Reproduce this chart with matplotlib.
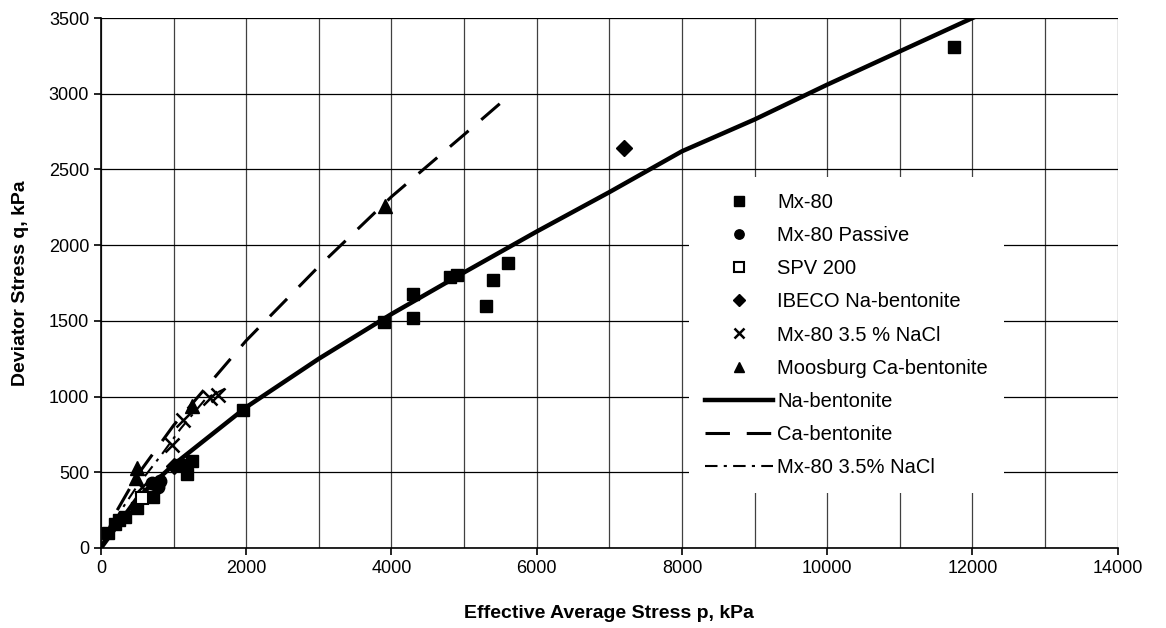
import matplotlib
matplotlib.use("Agg")
from matplotlib import pyplot as plt
from matplotlib.ticker import MultipleLocator

plt.rcParams['font.family'] = ['Liberation Sans', 'DejaVu Sans']

# measured points (p, q) in kPa
mx80_p = [100, 190, 250, 330, 500, 720, 1120, 1180, 1250, 1960, 3900, 4300, 4300, 4800, 4900, 5300, 5400, 5600, 11750]
mx80_q = [100, 160, 185, 205, 265, 340, 545, 490, 575, 910, 1490, 1680, 1520, 1790, 1800, 1600, 1770, 1880, 3310]
passive_p = [780, 810, 700]
passive_q = [400, 445, 430]
spv_p = [565]
spv_q = [330]
ibeco_p = [7200, 1000]
ibeco_q = [2640, 540]
nacl_p = [560, 980, 1130, 1500, 1610]
nacl_q = [400, 680, 845, 990, 1010]
moos_p = [480, 500, 1260, 3910]
moos_q = [460, 530, 935, 2260]

# fitted curves
na_line_p = [0, 500, 1000, 2000, 3000, 4000, 5000, 6000, 7000, 8000, 9000, 10000, 11000, 12000]
na_line_q = [0, 330, 550, 930, 1250, 1545, 1820, 2090, 2350, 2620, 2830, 3060, 3280, 3500]
ca_line_p = [0, 200, 500, 1000, 2000, 3000, 4000, 5000, 5650]
ca_line_q = [0, 230, 480, 810, 1370, 1860, 2320, 2730, 3000]
nacl_line_p = [0, 250, 500, 840, 1100, 1450, 1700]
nacl_line_q = [0, 230, 410, 620, 790, 990, 1050]

fig = plt.figure(figsize=(11.66, 6.28), dpi=100)
ax = fig.add_axes([0.0866, 0.1274, 0.872, 0.8439])

ax.plot(mx80_p, mx80_q, 's', color='black', ms=9, ls='none', label='Mx-80', zorder=4)
ax.plot(passive_p, passive_q, 'o', color='black', ms=9, ls='none', label='Mx-80 Passive', zorder=4)
ax.plot(spv_p, spv_q, 's', mfc='white', mec='black', mew=1.5, ms=9, ls='none', label='SPV 200', zorder=5)
ax.plot(ibeco_p, ibeco_q, 'D', color='black', ms=8, ls='none', label='IBECO Na-bentonite', zorder=4)
ax.plot(nacl_p, nacl_q, 'x', color='black', ms=10, mew=1.8, ls='none', label='Mx-80 3.5 % NaCl', zorder=4)
ax.plot(moos_p, moos_q, '^', color='black', ms=10, ls='none', label='Moosburg Ca-bentonite', zorder=4)

ax.plot(na_line_p, na_line_q, '-', color='black', lw=3.2, label='Na-bentonite', zorder=3)
ax.plot(ca_line_p, ca_line_q, color='black', lw=2.2, dashes=(8, 5.5), label='Ca-bentonite', zorder=3)
ax.plot(nacl_line_p, nacl_line_q, color='black', lw=1.5, dashes=(6, 3, 1.5, 3), label='Mx-80 3.5% NaCl', zorder=3)

ax.set_xlim(0, 14000)
ax.set_ylim(0, 3500)
ax.xaxis.set_major_locator(MultipleLocator(2000))
ax.xaxis.set_minor_locator(MultipleLocator(1000))
ax.yaxis.set_major_locator(MultipleLocator(500))

ax.grid(which='major', axis='y', color='black', lw=0.9)
ax.grid(which='both', axis='x', color='0.25', lw=0.9)
ax.set_axisbelow(True)

for s in ['top', 'right']:
    ax.spines[s].set_visible(False)
ax.spines['left'].set_linewidth(1.2)
ax.spines['bottom'].set_linewidth(1.2)
ax.tick_params(axis='both', which='major', direction='out', length=5, width=1.2, labelsize=13)
ax.tick_params(axis='x', which='minor', length=0)

ax.set_xlabel('Effective Average Stress p, kPa', fontsize=14, fontweight='bold', labelpad=20)
ax.set_ylabel('Deviator Stress q, kPa', fontsize=14, fontweight='bold', labelpad=14)

# white box without border, hides the grid behind the legend like the original
leg = ax.legend(loc='upper left', bbox_to_anchor=(0.578, 0.700), frameon=True, fontsize=14.5,
                handlelength=3.4, handletextpad=0.2, labelspacing=0.7, markerscale=0.75,
                borderaxespad=0, borderpad=0.8, fancybox=False, framealpha=1,
                facecolor='white', edgecolor='none')

fig.savefig('out.png', dpi=100)
